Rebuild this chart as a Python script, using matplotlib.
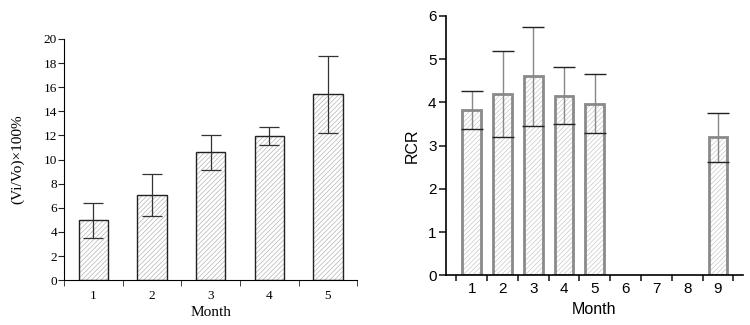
import matplotlib
matplotlib.use("Agg")
from matplotlib import pyplot as plt
import numpy as np

# 左図：(Vi/Vo)×100%
left_months = [1, 2, 3, 4, 5]
left_values = [4.95, 7.07, 10.6, 11.98, 15.4]
left_err = [1.45, 1.73, 1.45, 0.75, 3.2]

# 右図：RCR
right_months = [1, 2, 3, 4, 5, 9]
right_values = [3.82, 4.2, 4.6, 4.15, 3.97, 3.19]
right_err = [0.44, 1.0, 1.15, 0.66, 0.68, 0.57]
right_ticklabels = ["1", "2", "3", "4", "5", "6", "7", "8", "9"]

plt.rcParams['hatch.linewidth'] = 0.5

fig = plt.figure(figsize=(7.5, 3.25), dpi=100)

# ---- 左図 ----
serif = ['Liberation Serif', 'DejaVu Serif']
ax1 = fig.add_axes([0.0853, 0.138, 0.391, 0.742])
# 斜線（薄い灰色）と枠線を別々に描く
ax1.bar(left_months, left_values, width=0.5, color='white', edgecolor='#b5b5b5',
        linewidth=0, hatch='///////', zorder=2)
ax1.bar(left_months, left_values, width=0.5, fill=False, edgecolor='#222222',
        linewidth=1.0, zorder=2.5)
ax1.errorbar(left_months, left_values, yerr=left_err, fmt='none', ecolor='#333333',
             elinewidth=0.9, capsize=7, capthick=0.9, zorder=3)
ax1.set_xlim(0.5, 5.5)
ax1.set_ylim(0, 20)
ax1.set_yticks(np.arange(0, 21, 2))
ax1.set_xticks(left_months)
ax1.set_xticks(np.arange(0.5, 5.6, 1), minor=True)
ax1.tick_params(axis='x', which='major', length=0, pad=7)
ax1.tick_params(axis='x', which='minor', length=4, direction='out', color='#222222')
ax1.tick_params(axis='y', length=4, direction='out', pad=1, color='#222222')
for lab in ax1.get_xticklabels() + ax1.get_yticklabels():
    lab.set_family(serif)
    lab.set_fontsize(9.5)
ax1.spines['top'].set_visible(False)
ax1.spines['right'].set_visible(False)
ax1.set_xlabel("Month", family=serif, fontsize=11, labelpad=3)
ax1.set_ylabel("(Vi/Vo)×100%", family=serif, fontsize=11, labelpad=14)

# ---- 右図 ----
sans = ['Liberation Sans', 'DejaVu Sans']
ax2 = fig.add_axes([0.595, 0.153, 0.395, 0.798])
ax2.bar(right_months, right_values, width=0.61, color='white', edgecolor='#c8c8c8',
        linewidth=0, hatch='///////', zorder=2)
ax2.bar(right_months, right_values, width=0.61, fill=False, edgecolor='#8a8a8a',
        linewidth=2.0, zorder=2.5)
ax2.errorbar(right_months, right_values, yerr=right_err, fmt='none', ecolor='#888888',
             elinewidth=1.0, capsize=8, capthick=0, zorder=3)
ax2.errorbar(right_months, right_values, yerr=right_err, fmt='none', ecolor='#222222',
             elinewidth=0, capsize=8, capthick=1.0, zorder=4)
ax2.set_xlim(0.17, 9.8)
ax2.set_ylim(0, 6)
ax2.set_yticks(np.arange(0, 7, 1))
ax2.set_xticks(np.arange(1, 10))
ax2.set_xticklabels(right_ticklabels)
ax2.set_xticks(np.arange(0.5, 9.6, 1), minor=True)
ax2.tick_params(axis='x', which='major', length=0, pad=5, labelsize=11)
ax2.tick_params(axis='x', which='minor', length=4, direction='out', width=1.2, color='#222222')
ax2.tick_params(axis='y', length=5, direction='out', width=1.2, labelsize=11, pad=2, color='#222222')
for lab in ax2.get_xticklabels() + ax2.get_yticklabels():
    lab.set_family(sans)
ax2.spines['top'].set_visible(False)
ax2.spines['right'].set_visible(False)
ax2.spines['left'].set_linewidth(1.2)
ax2.spines['bottom'].set_linewidth(1.2)
ax2.set_xlabel("Month", family=sans, fontsize=11.5, labelpad=4)
ax2.set_ylabel("RCR", family=sans, fontsize=11.5, labelpad=6)

fig.savefig("out.png", dpi=100)
